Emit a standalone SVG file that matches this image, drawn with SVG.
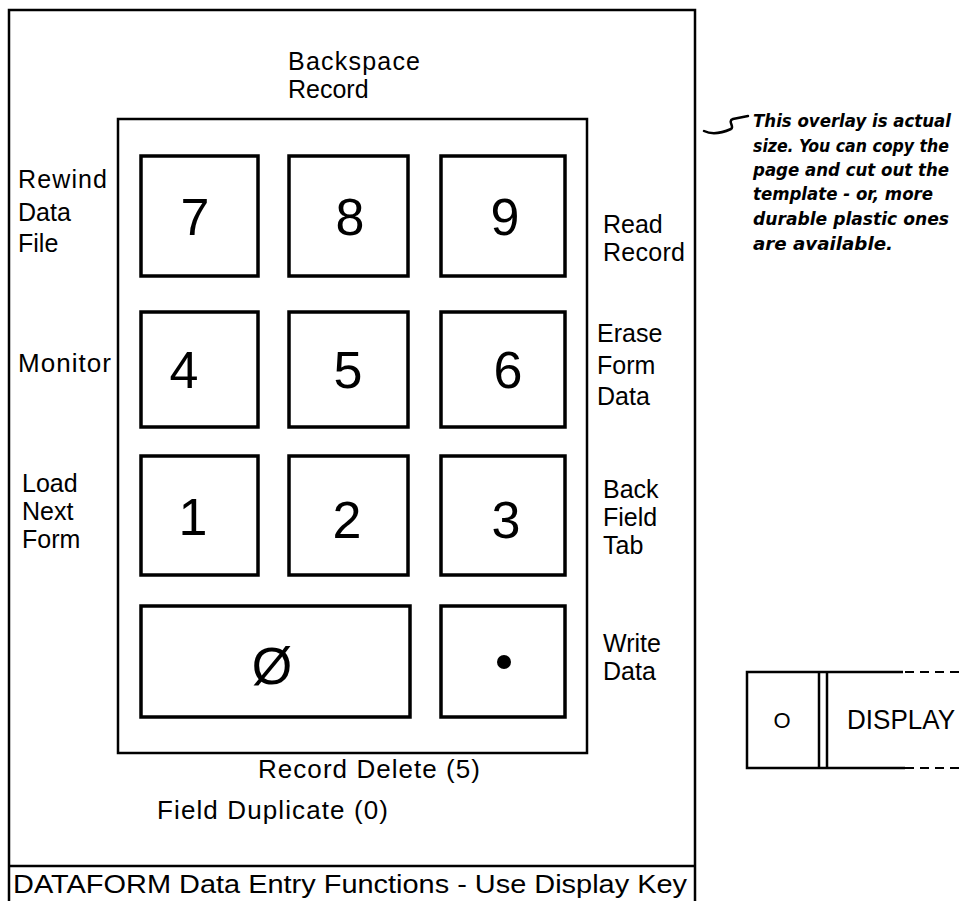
<svg xmlns="http://www.w3.org/2000/svg" width="960" height="901" viewBox="0 0 960 901">
<style>
.frame{fill:none;stroke:#000;stroke-width:2.5}
.panel{fill:none;stroke:#000;stroke-width:2.5}
.key{fill:#fff;stroke:#000;stroke-width:3.5}
.lbl{font-family:"Liberation Sans",Arial,sans-serif;font-size:26px;fill:#000}
.st{font-size:25px}
.dig{font-family:"Liberation Sans",Arial,sans-serif;font-size:52px;fill:#000;text-anchor:middle}
.hand{font-family:"DejaVu Sans Condensed","DejaVu Sans",sans-serif;font-style:italic;font-weight:bold;font-size:18px;fill:#000}
</style>
<rect width="960" height="901" fill="#fff"/>
<g id="frame">
<path class="frame" d="M9,905 L9,10 L695,10 L695,905"/>
<line class="frame" x1="9" y1="866" x2="695" y2="866"/>
<text class="lbl" x="13" y="893" textLength="674" lengthAdjust="spacingAndGlyphs">DATAFORM Data Entry Functions - Use Display Key</text>
</g>
<g id="panel">
<rect class="panel" x="118" y="119" width="469" height="634"/>
</g>
<g id="top-label">
<text class="lbl st" x="288" y="70" textLength="132">Backspace</text>
<text class="lbl st" x="288" y="98">Record</text>
</g>
<g id="key7"><rect class="key" x="141" y="156" width="117" height="120"/><text class="dig" x="195" y="235">7</text></g>
<g id="key8"><rect class="key" x="289" y="156" width="119" height="120"/><text class="dig" x="350" y="235">8</text></g>
<g id="key9"><rect class="key" x="441" y="156" width="124" height="120"/><text class="dig" x="505" y="235">9</text></g>
<g id="key4"><rect class="key" x="141" y="312" width="117" height="115"/><text class="dig" x="184" y="388">4</text></g>
<g id="key5"><rect class="key" x="289" y="312" width="119" height="115"/><text class="dig" x="348" y="388">5</text></g>
<g id="key6"><rect class="key" x="441" y="312" width="124" height="115"/><text class="dig" x="508" y="388">6</text></g>
<g id="key1"><rect class="key" x="141" y="456" width="117" height="119"/><text class="dig" x="193" y="535">1</text></g>
<g id="key2"><rect class="key" x="289" y="456" width="119" height="119"/><text class="dig" x="347" y="538">2</text></g>
<g id="key3"><rect class="key" x="441" y="456" width="124" height="119"/><text class="dig" x="506" y="538">3</text></g>
<g id="key0"><rect class="key" x="141" y="606" width="269" height="111"/><text class="dig" x="272" y="684" font-size="56">Ø</text></g>
<g id="keydot"><rect class="key" x="441" y="606" width="124" height="111"/><circle cx="504" cy="662" r="7" fill="#000"/></g>
<g id="left-labels">
<text class="lbl st" x="18" y="188" textLength="89">Rewind</text>
<text class="lbl st" x="18" y="221">Data</text>
<text class="lbl st" x="18" y="252">File</text>
<text class="lbl" x="18" y="372" textLength="93">Monitor</text>
<text class="lbl st" x="22" y="492">Load</text>
<text class="lbl st" x="22" y="520">Next</text>
<text class="lbl st" x="22" y="548">Form</text>
</g>
<g id="right-labels">
<text class="lbl st" x="603" y="233">Read</text>
<text class="lbl st" x="603" y="261" textLength="82">Record</text>
<text class="lbl st" x="597" y="342">Erase</text>
<text class="lbl st" x="597" y="374">Form</text>
<text class="lbl st" x="597" y="405">Data</text>
<text class="lbl st" x="603" y="498">Back</text>
<text class="lbl st" x="603" y="526">Field</text>
<text class="lbl st" x="603" y="554">Tab</text>
<text class="lbl st" x="603" y="652">Write</text>
<text class="lbl st" x="603" y="680">Data</text>
</g>
<g id="bottom-labels">
<text class="lbl" x="258" y="778" textLength="222">Record Delete (5)</text>
<text class="lbl" x="157" y="819" textLength="231">Field Duplicate (0)</text>
</g>
<g id="note">
<path d="M704,131 C712,135 722,133 731,129 C735,127 727,121 733,119 L748,116" fill="none" stroke="#000" stroke-width="2.5" stroke-linecap="round"/>
<text class="hand" x="753" y="127" textLength="198" lengthAdjust="spacingAndGlyphs">This overlay is actual</text>
<text class="hand" x="753" y="152" textLength="196" lengthAdjust="spacingAndGlyphs">size. You can copy the</text>
<text class="hand" x="753" y="176" textLength="196" lengthAdjust="spacingAndGlyphs">page and cut out the</text>
<text class="hand" x="753" y="200" textLength="180" lengthAdjust="spacingAndGlyphs">template - or, more</text>
<text class="hand" x="753" y="225" textLength="196" lengthAdjust="spacingAndGlyphs">durable plastic ones</text>
<text class="hand" x="753" y="250" textLength="140" lengthAdjust="spacingAndGlyphs">are available.</text>
</g>
<g id="display-key">
<path d="M903,672 L747,672 L747,768 L905,768" fill="none" stroke="#000" stroke-width="2.5"/>
<path d="M905,672 L960,672 M905,768 L960,768" fill="none" stroke="#000" stroke-width="2" stroke-dasharray="9,6"/>
<line x1="819" y1="672" x2="819" y2="768" stroke="#000" stroke-width="2.5"/>
<line x1="827" y1="672" x2="827" y2="768" stroke="#000" stroke-width="2.5"/>
<text x="782" y="728" font-family="Liberation Sans,Arial,sans-serif" font-size="22" text-anchor="middle">O</text>
<text x="847" y="729" font-family="Liberation Sans,Arial,sans-serif" font-size="27" textLength="108" lengthAdjust="spacingAndGlyphs">DISPLAY</text>
</g>
</svg>
